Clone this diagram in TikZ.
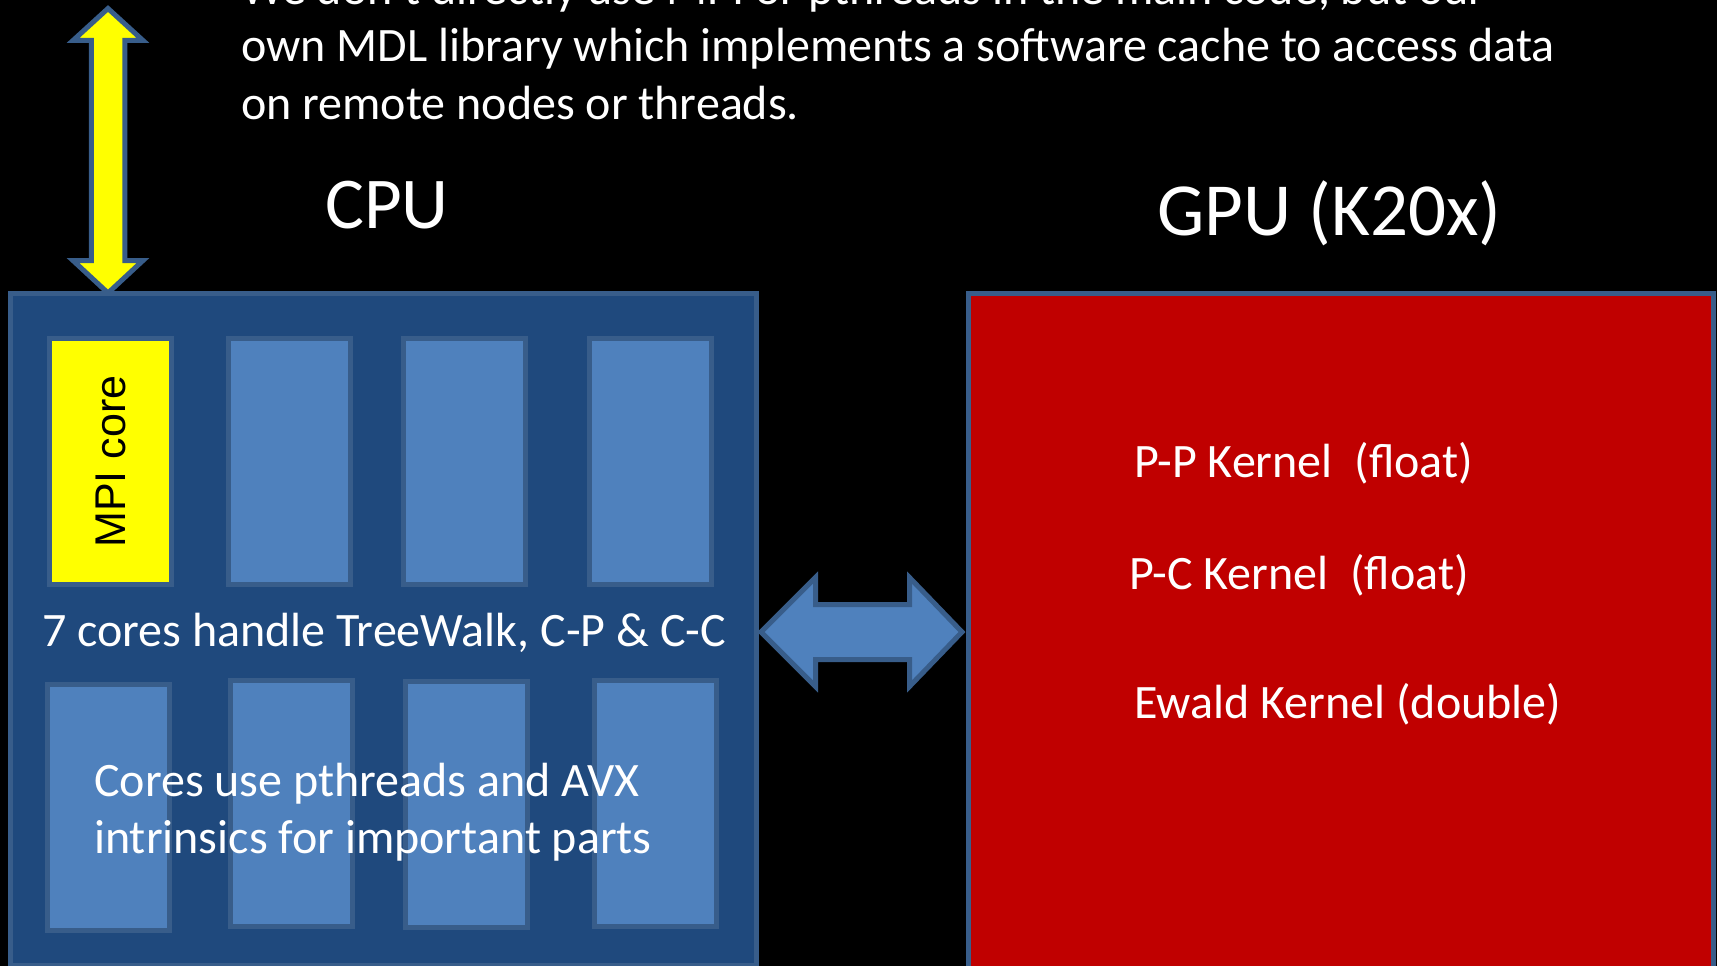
\documentclass[tikz,border=0pt]{standalone}
\usepackage{fontspec}
\setmainfont{Carlito}
\newfontfamily\arialfont{Liberation Sans}
\usetikzlibrary{calc}

\definecolor{cpufill}{HTML}{1F497D}
\definecolor{edgeblue}{HTML}{385D8A}
\definecolor{corefill}{HTML}{4F81BD}
\definecolor{gpufill}{HTML}{C00000}
\definecolor{mpiyellow}{HTML}{FFFF00}

\tikzset{
  bigbox/.style={draw=edgeblue, line width=5pt, rectangle, inner sep=0pt, outer sep=0pt},
  corebox/.style={draw=edgeblue, line width=5pt, fill=corefill, rectangle, inner sep=0pt, outer sep=0pt,
    minimum width=122pt, minimum height=246pt},
  blockarrow/.style={draw=edgeblue, line width=5pt, line join=miter},
  bodytext/.style={text=white, inner sep=0pt, anchor=base west, font=\fontsize{48}{57}\selectfont},
  titletext/.style={text=white, inner sep=0pt, anchor=base west, font=\fontsize{73}{88}\selectfont},
}

\begin{document}
\begin{tikzpicture}[x=1pt,y=-1pt]
  % page and background
  \useasboundingbox (0,0) rectangle (1717,966);
  \fill[black] (0,0) rectangle (1717,966);

  % introductory text (first line runs off the top of the page)
  \node[bodytext] (intro1) at (241,5)   {We don't directly use MPI or pthreads in the main code, but our};
  \node[bodytext] (intro2) at (241,62)  {own MDL library which implements a software cache to access data};
  \node[bodytext] (intro3) at (241,119) {on remote nodes or threads.};

  % titles
  \node[titletext] (cputitle) at (325,228) {CPU};
  \node[titletext, font=\fontsize{75}{88}\selectfont] (gputitle) at (1157,235) {GPU (K20x)};

  % geometry of the CPU and GPU boxes
  \coordinate (cpunw) at (10.5,293);
  \coordinate (cpuse) at (756.5,965);
  \coordinate (gpunw) at (968.5,293.5);
  \coordinate (gpuse) at (1713.5,990);

  % network link into the MPI core (free end above the page)
  \coordinate (nettop) at (108,8.5);
  \coordinate (netbot) at (108,293);
  \draw[blockarrow, fill=mpiyellow]
    (nettop) -- ++(35,32) -- ++(-18.25,0) -- (124.75,260.5)
    -- ++(18.25,0) -- (netbot) -- ++(-35,-32.5) -- ++(18.25,0)
    -- (91.25,40.5) -- ++(-18.25,0) -- cycle;

  % CPU package
  \node[bigbox, fill=cpufill, minimum width=746pt, minimum height=672pt]
    (cpu) at ($(cpunw)!0.5!(cpuse)$) {};

  % upper row of cores
  \node[corebox, fill=mpiyellow] (c1) at (110.5,461.5) {};
  \node[corebox] (c2) at (289,461.5) {};
  \node[corebox] (c3) at (464,461.5) {};
  \node[corebox] (c4) at (650,461.5) {};
  \node[rotate=90, inner sep=0pt, font=\arialfont\fontsize{43}{50}\selectfont, text=black]
    (mpilabel) at (c1.center) {MPI core};

  % lower row of cores
  \node[corebox] (c5) at (108.5,807.5) {};
  \node[corebox] (c6) at (291.5,803.5) {};
  \node[corebox] (c7) at (466.5,804.5) {};
  \node[corebox] (c8) at (655.5,803.5) {};

  % CPU annotations
  \node[bodytext, anchor=base] (cpunote) at (384,646) {7 cores handle TreeWalk, C-P \& C-C};
  \node[bodytext] (avx1) at (94,796) {Cores use pthreads and AVX};
  \node[bodytext] (avx2) at (94,853) {intrinsics for important parts};

  % GPU card
  \node[bigbox, fill=gpufill, minimum width=745pt, minimum height=696.5pt]
    (gpu) at ($(gpunw)!0.5!(gpuse)$) {};
  \node[bodytext] (ppk) at (1134,477) {P-P Kernel\ \ (float)};
  \node[bodytext] (pck) at (1129,589) {P-C Kernel\ \ (float)};
  \node[bodytext] (ewk) at (1134,718) {Ewald Kernel (double)};

  % PCIe link between CPU and GPU
  \coordinate (linkrow) at (0,632);
  \coordinate (tl) at ($(cpu.east |- linkrow)+(4.5,0)$);
  \coordinate (tr) at ($(gpu.west |- linkrow)+(-6.5,0)$);
  \draw[blockarrow, fill=corefill]
    (tl) -- ($(tl)+(54.5,-54.5)$) -- ($(tl)+(54.5,-27.5)$)
    -- ($(tr)+(-52.5,-27.5)$) -- ($(tr)+(-52.5,-54.5)$) -- (tr)
    -- ($(tr)+(-52.5,54.5)$) -- ($(tr)+(-52.5,27.5)$)
    -- ($(tl)+(54.5,27.5)$) -- ($(tl)+(54.5,54.5)$) -- cycle;
\end{tikzpicture}
\end{document}
